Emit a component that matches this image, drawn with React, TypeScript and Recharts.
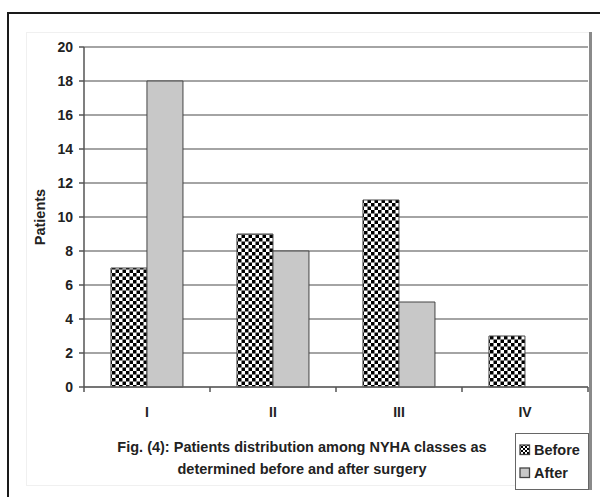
import React from 'react';
import { BarChart, Bar, XAxis, YAxis, CartesianGrid, Legend } from 'recharts';

const categories = ['I', 'II', 'III', 'IV'];
const beforeValues = [7, 9, 11, 3];
const afterValues = [18, 8, 5, 0];
const yTicks = [0, 2, 4, 6, 8, 10, 12, 14, 16, 18, 20];
const titleLines = ['Fig. (4): Patients distribution among NYHA classes as', 'determined before and after surgery'];
const seriesNames = ['Before', 'After'];

const data = categories.map((c, i) => ({ name: c, Before: beforeValues[i], After: afterValues[i] }));

const W = 600;
const H = 497;
const MARGIN = { top: 47, right: 12, bottom: 80, left: 24 };
const Y_AXIS_W = 60;
const PLOT_W = W - MARGIN.left - MARGIN.right - Y_AXIS_W;
const HALF_BAND = PLOT_W / categories.length / 2;
const FONT = '"Liberation Sans", Arial, sans-serif';

const XTick = (props: any) => {
  const { x, y, payload, index } = props;
  const isLast = index === categories.length - 1;
  return (
    <g>
      <line x1={x - HALF_BAND} x2={x - HALF_BAND} y1={y - 8} y2={y - 3} stroke="#555" strokeWidth={1.5} />
      {isLast && <line x1={x + HALF_BAND} x2={x + HALF_BAND} y1={y - 8} y2={y - 3} stroke="#555" strokeWidth={1.5} />}
      <text x={x} y={y + 22} textAnchor="middle" fontFamily={FONT} fontWeight="bold" fontSize={14} fill="#222">
        {payload.value}
      </text>
    </g>
  );
};

const LegendContent = () => (
  <div
    style={{
      width: 74,
      height: 57,
      border: '1.5px solid #666',
      background: '#fff',
      boxSizing: 'border-box',
      fontFamily: FONT,
      fontWeight: 'bold',
      fontSize: 14.5,
      color: '#222',
      paddingTop: 4,
      paddingLeft: 3,
    }}
  >
    {seriesNames.map((n, i) => (
      <div key={n} style={{ display: 'flex', alignItems: 'center', height: 23 }}>
        <svg width={12} height={12} style={{ marginRight: 3 }}>
          <rect
            x={1}
            y={1}
            width={9.5}
            height={9.5}
            fill={i === 0 ? 'url(#checker-legend)' : '#c8c8c8'}
            stroke="#444"
            strokeWidth={1.3}
          />
        </svg>
        <span>{n}</span>
      </div>
    ))}
  </div>
);

export default function App() {
  return (
    <div style={{ position: 'absolute', left: 0, top: 0, width: W, height: H, overflow: 'hidden', background: '#fff' }}>
      <svg width={0} height={0} style={{ position: 'absolute' }}>
        <defs>
          <pattern id="checker" x={0} y={0} width={7} height={7} patternUnits="userSpaceOnUse">
            <rect x={0} y={0} width={7} height={7} fill="#fff" />
            <rect x={0} y={0} width={3.5} height={3.5} fill="#000" />
            <rect x={3.5} y={3.5} width={3.5} height={3.5} fill="#000" />
          </pattern>
          <pattern id="checker-legend" x={0} y={0} width={4} height={4} patternUnits="userSpaceOnUse">
            <rect x={0} y={0} width={4} height={4} fill="#fff" />
            <rect x={0} y={0} width={2} height={2} fill="#000" />
            <rect x={2} y={2} width={2} height={2} fill="#000" />
          </pattern>
        </defs>
      </svg>
      {/* outer black frame */}
      <div style={{ position: 'absolute', left: 7, top: 12, width: 700, height: 700, border: '2px solid #1a1a1a' }} />
      {/* faint inner panel */}
      <div style={{ position: 'absolute', left: 26, top: 32, width: 563, height: 452, border: '1px solid #f0f0f0' }} />
      {/* right gray edge */}
      <div style={{ position: 'absolute', left: 589, top: 32, width: 3, height: 458, background: '#8a8a8a' }} />
      <div style={{ position: 'absolute', left: 0, top: 0 }}>
        <BarChart width={W} height={H} data={data} margin={MARGIN} barCategoryGap="21.4%" barGap={0}>
          <CartesianGrid vertical={false} stroke="#868686" strokeWidth={1.5} />
          <XAxis
            dataKey="name"
            axisLine={{ stroke: '#666', strokeWidth: 1.5 }}
            tickLine={false}
            tick={<XTick />}
            height={30}
            interval={0}
          />
          <YAxis
            width={Y_AXIS_W}
            domain={[0, 20]}
            ticks={yTicks}
            interval={0}
            axisLine={{ stroke: '#555', strokeWidth: 1.5 }}
            tickLine={{ stroke: '#555', strokeWidth: 1.5 }}
            tickSize={5}
            tickMargin={6}
            tick={{ fontFamily: FONT, fontWeight: 'bold', fontSize: 14, fill: '#222' }}
            label={{
              value: 'Patients',
              angle: -90,
              position: 'insideLeft',
              offset: 16,
              style: { fontFamily: FONT, fontWeight: 'bold', fontSize: 14.5, fill: '#222', textAnchor: 'middle' },
            }}
          />
          <Bar dataKey="Before" fill="url(#checker)" stroke="#444" strokeWidth={1} isAnimationActive={false} />
          <Bar dataKey="After" fill="#c8c8c8" stroke="#444" strokeWidth={1} isAnimationActive={false} />
          <Legend
            layout="vertical"
            align="center"
            verticalAlign="middle"
            content={<LegendContent />}
            wrapperStyle={{ position: 'absolute', left: 515, top: 433, width: 74, height: 57 }}
          />
        </BarChart>
      </div>
      <div
        style={{
          position: 'absolute',
          left: 0,
          width: 604,
          top: 436,
          textAlign: 'center',
          fontFamily: FONT,
          fontWeight: 'bold',
          fontSize: 14.5,
          lineHeight: '22px',
          color: '#222',
        }}
      >
        {titleLines.map((t) => (
          <div key={t}>{t}</div>
        ))}
      </div>
    </div>
  );
}
